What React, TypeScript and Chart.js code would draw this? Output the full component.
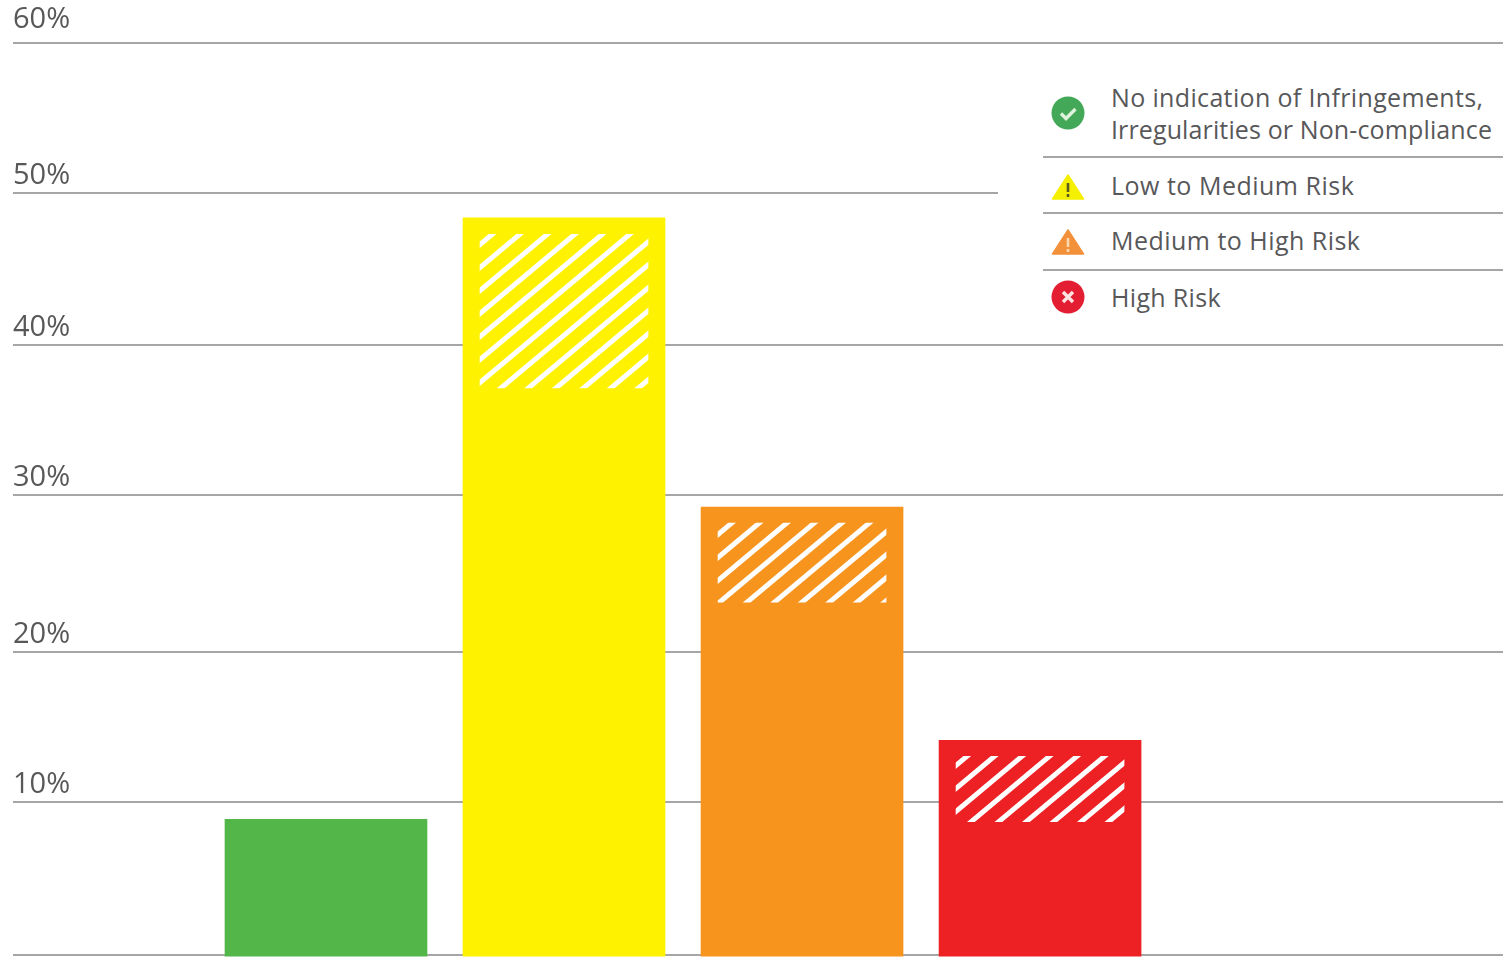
import React, { useEffect, useRef } from "react";
import { Chart, registerables } from "chart.js";

Chart.register(...registerables);

const categories = [
  "No indication of Infringements, Irregularities or Non-compliance",
  "Low to Medium Risk",
  "Medium to High Risk",
  "High Risk",
];
const shareValues = [8.9, 48.5, 29.45, 14.1];
const hatchLow = [null, 37.3, 23.2, 8.75];
const hatchHigh = [null, 47.4, 28.4, 13.05];
const barColors = ["#52B748", "#FFF200", "#F7941E", "#ED2024"];
const iconColors = ["#43A857", "#F4F000", "#F2913A", "#E31E32"];
const gridValues = [0, 10.07, 19.93, 30.26, 40.13, 50.13, 60];
const tickLabels = ["", "10%", "20%", "30%", "40%", "50%", ""];
const topTickValues = [60];
const topTickLabels = ["60%"];

const FONT = '"Open Sans", "Noto Sans", sans-serif';
const TEXT = "#58585a";
const Y_MIN = -0.13;
const hatchPhase = [0, 2, 8, 1];
const CANVAS_HEIGHT = 974;

function makeHatch(ctx: CanvasRenderingContext2D, phase: number) {
  const c = document.createElement("canvas");
  c.width = 55;
  c.height = 46;
  const g = c.getContext("2d")!;
  g.strokeStyle = "#ffffff";
  g.lineWidth = 5;
  for (let k = -3; k <= 8; k++) {
    g.beginPath();
    g.moveTo(-5, k * 23 + phase + 5 * 0.836);
    g.lineTo(60, k * 23 + phase - 46 - 5 * 0.836);
    g.stroke();
  }
  return ctx.createPattern(c, "repeat")!;
}

function Icon({ kind, color }: { kind: string; color: string }) {
  if (kind === "check" || kind === "cross") {
    return (
      <svg width="34" height="34" viewBox="0 0 34 34">
        <circle cx="17" cy="17" r="16.5" fill={color} />
        {kind === "check" ? (
          <path d="M10 17.5l5 5 9.5-9.5" fill="none" stroke="#dff2dc" strokeWidth="3.4" />
        ) : (
          <path d="M12 12l10 10M22 12l-10 10" fill="none" stroke="#fde3e3" strokeWidth="3.4" />
        )}
      </svg>
    );
  }
  return (
    <svg width="34" height="34" viewBox="0 0 34 34">
      <path d="M17 5L32.5 29H1.5Z" fill={color} stroke={color} strokeWidth="1.5" strokeLinejoin="round" />
      <path d="M17 13v9M17 24v3" stroke={kind === "warnLow" ? "#5a5a20" : "#fbd9b0"} strokeWidth="2.6" />
    </svg>
  );
}

const legendRows = [
  { lines: ["No indication of Infringements,", "Irregularities or Non-compliance"], tops: [100, 132], spacing: [0.35, 0.125], icon: "check", iconY: 113, rule: 157 },
  { lines: ["Low to Medium Risk"], tops: [188], spacing: [0.5], icon: "warnLow", iconY: 187, rule: 213 },
  { lines: ["Medium to High Risk"], tops: [243], spacing: [0.47], icon: "warnHigh", iconY: 242, rule: 270 },
  { lines: ["High Risk"], tops: [300], spacing: [0.33], icon: "cross", iconY: 297, rule: null },
];

export default function App() {
  const ref = useRef<HTMLCanvasElement>(null);

  useEffect(() => {
    const ctx = ref.current!.getContext("2d")!;
    const positions = categories.map((_, i) => i);
    const tickFont = { family: FONT, size: 29 };
    const chart = new Chart(ctx, {
      type: "bar",
      data: {
        datasets: [
          {
            label: "Share",
            data: positions.map((x) => ({ x, y: shareValues[x] })),
            backgroundColor: barColors,
            barThickness: 202,
            base: Y_MIN,
            grouped: false,
            order: 2,
            yAxisID: "y",
          },
          {
            label: "Hatched share",
            data: positions
              .filter((x) => hatchLow[x] !== null)
              .map((x) => ({ x, y: [hatchLow[x], hatchHigh[x]] })),
            backgroundColor: positions
              .filter((x) => hatchLow[x] !== null)
              .map((x) => makeHatch(ctx, hatchPhase[x])),
            barThickness: 168,
            grouped: false,
            order: 1,
            yAxisID: "y",
          },
        ] as any,
      },
      options: {
        animation: false,
        responsive: false,
        devicePixelRatio: 1,
        layout: { padding: { left: 13, top: 43, right: 0, bottom: 0 } },
        plugins: { legend: { display: false }, tooltip: { enabled: false } },
        scales: {
          x: {
            type: "linear",
            display: false,
            offset: false,
            min: -1.315,
            max: 4.945,
          },
          y: {
            min: Y_MIN,
            max: 60,
            afterBuildTicks: (axis: any) => {
              axis.ticks = gridValues.map((value) => ({ value }));
            },
            border: { display: false },
            grid: { color: "#a6a6a8", lineWidth: 2, drawTicks: false },
            ticks: {
              mirror: true,
              padding: 0,
              labelOffset: -17,
              autoSkip: false,
              color: TEXT,
              font: tickFont,
              callback: (_v: any, i: number) => tickLabels[i],
            },
          },
          yTop: {
            position: "left",
            min: Y_MIN,
            max: 60,
            afterBuildTicks: (axis: any) => {
              axis.ticks = topTickValues.map((value) => ({ value }));
            },
            border: { display: false },
            grid: { display: false, drawTicks: false },
            ticks: {
              mirror: true,
              padding: 0,
              labelOffset: -23,
              autoSkip: false,
              color: TEXT,
              font: tickFont,
              callback: (_v: any, i: number) => topTickLabels[i],
            },
          },
        },
      } as any,
    });
    return () => chart.destroy();
  }, []);

  return (
    <div style={{ position: "absolute", left: 0, top: 0, width: 1503, height: 957, overflow: "hidden", background: "#fff", filter: "blur(0.7px)" }}>
      <canvas ref={ref} width={1503} height={CANVAS_HEIGHT} style={{ display: "block", width: 1503, height: CANVAS_HEIGHT }} />
      <div style={{ position: "absolute", left: 998, top: 60, width: 505, height: 270, background: "#fff" }} />
      {legendRows.map((row, i) => (
        <React.Fragment key={i}>
          <div style={{ position: "absolute", left: 1051, top: row.iconY - 17, width: 34, height: 34, lineHeight: 0 }}>
            <Icon kind={row.icon} color={iconColors[i]} />
          </div>
          {row.lines.map((line, j) => (
            <div
              key={j}
              style={{
                position: "absolute",
                left: 1111,
                top: row.tops[j] - 20,
                height: 40,
                lineHeight: "40px",
                whiteSpace: "nowrap",
                font: `25px ${FONT}`,
                letterSpacing: row.spacing[j],
                color: TEXT,
              }}
            >
              {line}
            </div>
          ))}
          {row.rule !== null && (
            <div style={{ position: "absolute", left: 1043, top: row.rule - 1, width: 460, height: 2, background: "#a6a6a8" }} />
          )}
        </React.Fragment>
      ))}
    </div>
  );
}
